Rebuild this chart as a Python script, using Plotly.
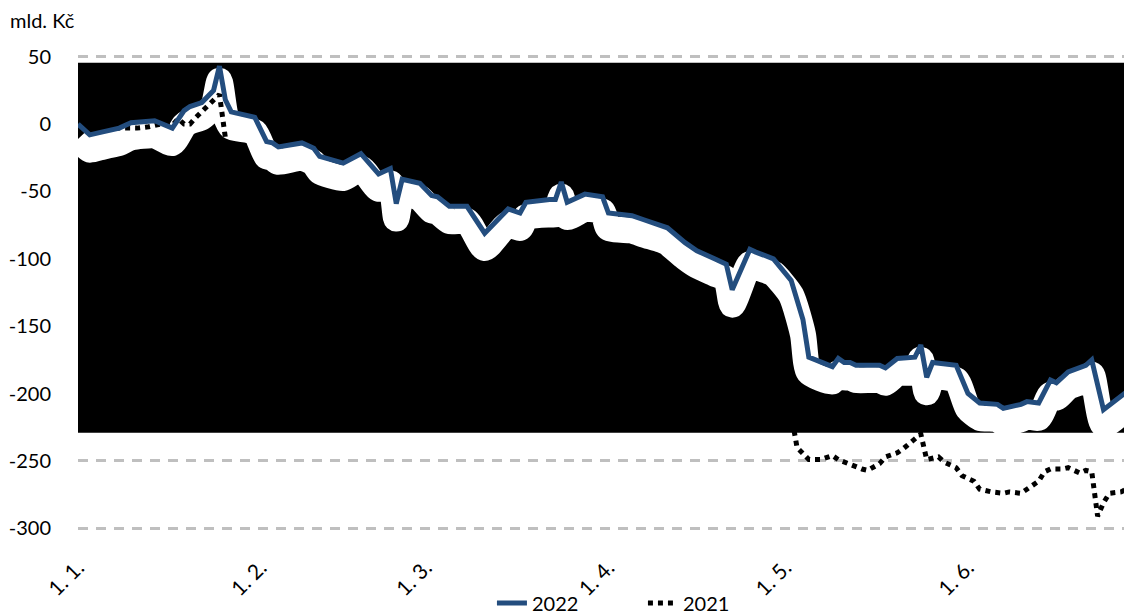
import pandas as pd
import plotly.graph_objects as go

# day offsets from 1 Jan and cumulative balance (mld. Kč)
days_2022 = [0, 2, 4, 5, 7, 9, 13, 16, 18, 19, 21, 23, 24, 25, 26, 30, 32, 33, 34, 38,
             40, 41, 45, 48, 51, 53, 54, 55, 58, 60, 61, 63, 66, 69, 73, 75, 76, 80, 81, 82,
             83, 86, 89, 90, 94, 96, 99, 100, 103, 105, 108, 110, 111, 114, 115, 117, 118, 121, 123, 124,
             128, 129, 130, 131, 132, 136, 137, 139, 142, 143, 144, 145, 149, 151, 153, 156, 157, 160, 161, 163,
             165, 166, 168, 171, 172, 174, 179]
vals_2022 = [0, -8, -6, -5, -3, 1, 2.5, -3, 10, 13, 16, 25, 43, 18, 9, 5, -13, -14, -17, -14,
             -18, -24, -29, -22, -37, -33, -59, -41, -44, -53, -54, -61, -61, -81, -63, -66, -58, -56, -56, -43,
             -58, -52, -54, -66, -68, -71, -75, -77, -88, -94, -100, -104, -123, -93, -95, -98, -100, -116, -145, -173,
             -180, -174, -177, -177, -179, -179, -181, -174, -173, -164, -188, -177, -179, -200, -207, -208, -211, -208, -206, -207,
             -190, -192, -184, -179, -175, -212, -195]

days_2021 = [0, 2, 3, 5, 7, 10, 12, 14, 16, 17, 18, 19, 20, 22, 23, 24, 25, 27, 32, 40,
             48, 55, 63, 69, 76, 83, 90, 100, 111, 117, 121, 122, 123, 124, 126, 128, 129, 131, 133, 134,
             136, 137, 139, 140, 142, 143, 144, 145, 146, 147, 149, 150, 152, 153, 155, 157, 158, 160, 161, 163,
             164, 165, 167, 168, 170, 171, 172, 173, 174, 175, 177, 178, 179]
vals_2021 = [0, -6, -6, -4, -3, -3, -2, 0, -1, 4, 0, 0, 5, 13, 18, 22, -10, -35, -55, -65,
             -75, -95, -105, -120, -110, -105, -115, -135, -170, -180, -215, -240, -244, -249, -249, -246, -249, -253, -256, -257,
             -252, -247, -244, -241, -234, -230, -249, -248, -247, -251, -255, -261, -265, -271, -273, -274, -273, -274, -271, -265,
             -258, -256, -256, -255, -259, -257, -258, -291, -281, -274, -273, -270, -268]

y_ticks = [50, 0, -50, -100, -150, -200, -250, -300]
y_grid = [50, -250, -300]   # only these gridlines show outside the black block

year_start = pd.Timestamp("2022-01-01")
x_2022 = year_start + pd.to_timedelta(days_2022, unit="D")
x_2021 = year_start + pd.to_timedelta(days_2021, unit="D")  # 2021 plotted on same day of year

shadow_shift = 11
font = "Lato, Open Sans, sans-serif"

fig = go.Figure()

# white "shadow" of the 2022 line
fig.add_trace(go.Scatter(
        x = x_2022,
        y = [v - shadow_shift for v in vals_2022],
        mode = "lines",
        line = dict(color = "white", width = 26, shape = "spline", smoothing = 0.6),
        showlegend = False,
        hoverinfo = "skip"))

fig.add_trace(go.Scatter(
        x = x_2021,
        y = vals_2021,
        name = "2021",
        mode = "lines",
        line = dict(color = "black", width = 5, dash = "5px,5px"),
        legendrank = 2))

fig.add_trace(go.Scatter(
        x = x_2022,
        y = vals_2022,
        name = "2022",
        mode = "lines",
        line = dict(color = "#234d7e", width = 5),
        legendrank = 1))

# black block behind the lines
fig.add_shape(type = "rect", xref = "paper", yref = "y",
              x0 = 0, x1 = 1, y0 = -229, y1 = 45.5,
              fillcolor = "black", line_width = 0, layer = "below")

# page body adds 8px around the figure, so the figure is 8px smaller than the window
fig.update_layout(
        width = 1124, height = 607,
        margin = dict(l = 70, r = 0, t = 46, b = 84, autoexpand = False),
        plot_bgcolor = "white", paper_bgcolor = "white",
        font = dict(family = font, size = 20, color = "black"),
        title = dict(text = "mld. Kč", x = 2 / 1124, xanchor = "left",
                     y = 1 - 13 / 607, yanchor = "middle",
                     font = dict(family = font, size = 20, color = "black")),
        legend = dict(orientation = "h", x = 0.536, xanchor = "center",
                      yref = "container", y = 1 - 595 / 607, yanchor = "middle",
                      bgcolor = "rgba(0,0,0,0)",
                      entrywidth = 106, entrywidthmode = "pixels",
                      font = dict(size = 20)),
        showlegend = True)

fig.update_xaxes(
        type = "date",
        range = ["2022-01-01", "2022-06-28 20:00"],
        tick0 = "2022-01-01", dtick = "M1",
        tickformat = "%-d. %-m.",
        tickangle = -45,
        tickfont = dict(size = 21),
        ticks = "outside", ticklen = 0,
        ticklabelstandoff = 15,
        showgrid = False, zeroline = False, showline = False)

fig.update_yaxes(
        range = [-302, 52],
        tickvals = y_ticks, ticktext = [str(v) for v in y_ticks],
        showgrid = False,
        minor = dict(tickvals = y_grid, showgrid = True, gridcolor = "#bfbfbf",
                     gridwidth = 2.5, griddash = "10px,8px", ticklen = 0),
        zeroline = False, showline = False,
        ticks = "outside", ticklen = 0, ticklabelstandoff = 22)

fig.write_html("out.html")
